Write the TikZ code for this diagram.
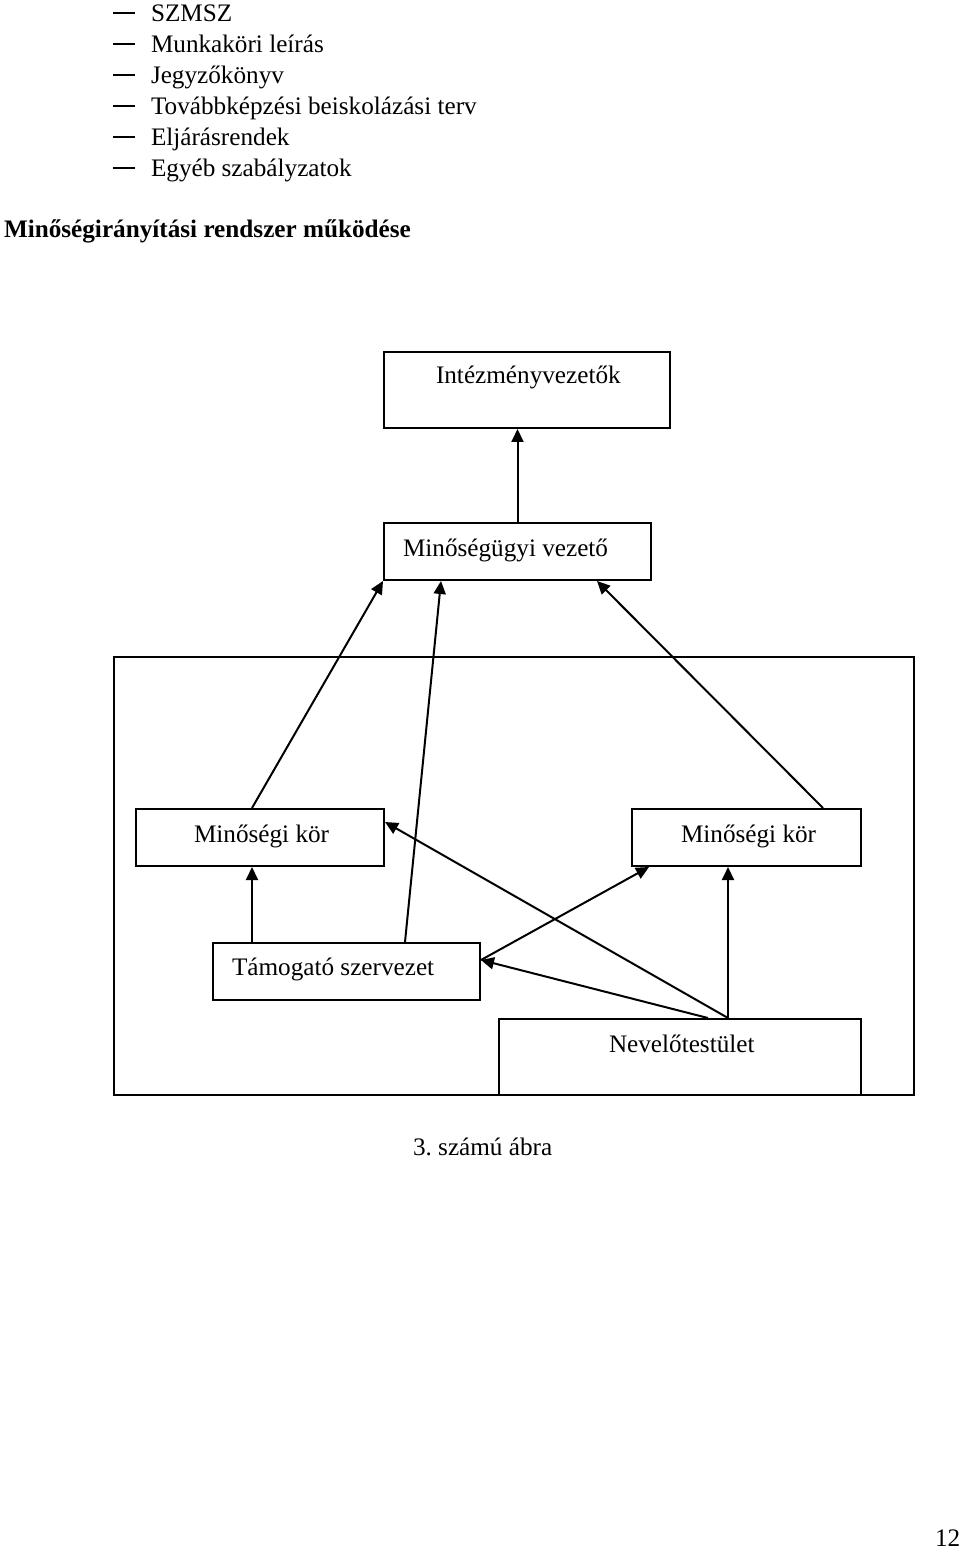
\documentclass[tikz,border=0pt]{standalone}
\usepackage{fontspec}
\setmainfont{Liberation Serif}
\usetikzlibrary{arrows.meta}

\begin{document}
\begin{tikzpicture}[x=0.5pt, y=-0.5pt, line width=1pt,
  box/.style={draw, inner sep=0pt, line width=1pt},
  szoveg/.style={anchor=base west, inner sep=0pt, font=\fontsize{12.6}{15}\selectfont},
  nyil/.style={-{Triangle[length=6.5pt, width=6pt]}, line width=1pt}]
\useasboundingbox (0,0) rectangle (960,1550);

\foreach \y/\t [count=\i] in {22/SZMSZ, 53/Munkaköri leírás, 84/Jegyzőkönyv,
  115/Továbbképzési beiskolázási terv, 146/Eljárásrendek, 177/Egyéb szabályzatok}
{
  \draw[line width=1.1pt] (113,\y-9) -- (135,\y-9);
  \node[szoveg] (li\i) at (150,\y) {\t};
}

\node[szoveg, font=\fontsize{12.6}{15}\selectfont\bfseries] (cim) at (3,238) {Minőségirányítási rendszer működése};

\node[box, minimum width=143pt, minimum height=38pt] (iv) at (527,390) {};
\node[szoveg] (iv-t) at (435,384) {Intézményvezetők};
\node[box, minimum width=133.5pt, minimum height=28.5pt] (mv) at (517.5,551.5) {};
\node[szoveg] (mv-t) at (402,556) {Minőségügyi vezető};

\draw (114,657) rectangle (914,1095);

\node[box, minimum width=124pt, minimum height=28.5pt] (lk) at (260,837.5) {};
\node[szoveg] (lk-t) at (193,842) {Minőségi kör};
\node[box, minimum width=114.5pt, minimum height=28.5pt] (rk) at (746.5,837.5) {};
\node[szoveg] (rk-t) at (680,842) {Minőségi kör};
\node[box, minimum width=133.5pt, minimum height=28.5pt] (tam) at (346.5,971.5) {};
\node[szoveg] (tam-t) at (231,975) {Támogató szervezet};
\node[box, minimum width=181pt, minimum height=38pt] (nev) at (680,1057) {};
\node[szoveg] (nev-t) at (608,1052) {Nevelőtestület};

\coordinate (n1) at ([xshift=24pt]nev.north);
\coordinate (n2) at ([xshift=14pt]nev.north);
\coordinate (t1) at ([yshift=5.75pt]tam.east);

\draw[nyil] (mv.north) -- (iv.south -| mv.north);
\draw[nyil] ([xshift=-4pt]lk.north) -- (mv.south west);
\draw[nyil] ([xshift=29.25pt]tam.north) -- ([xshift=-38.25pt]mv.south);
\draw[nyil] ([xshift=38.25pt]rk.north) -- ([xshift=39.75pt]mv.south);
\draw[nyil] ([xshift=-47.25pt]tam.north) -- ([xshift=-4pt]lk.south);
\draw[nyil] (n1) -- (n1 |- rk.south);
\draw[nyil] (n1) -- ([yshift=7.75pt]lk.east);
\draw[nyil] (n2) -- (t1);
\draw[nyil] (t1) -- ([xshift=9pt]rk.south west);

\node[szoveg] (abra) at (412,1155) {3.\ számú ábra};
\node[szoveg] (oldal) at (934,1546) {12};
\end{tikzpicture}
\end{document}
